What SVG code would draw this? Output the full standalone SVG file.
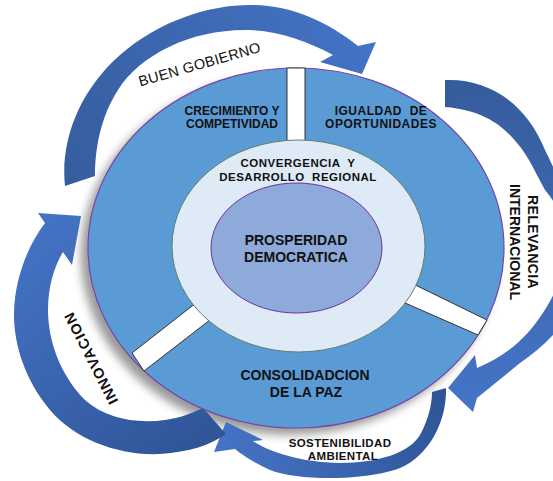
<svg xmlns="http://www.w3.org/2000/svg" width="553" height="481" viewBox="0 0 553 481">
<defs>
<style>
text { font-family: "Liberation Sans", Arial, sans-serif; fill: #111; }
.b { font-weight: bold; }
.bar { fill: #ffffff; stroke: #333333; stroke-width: 1; }
</style>
<linearGradient id="gA" gradientUnits="userSpaceOnUse" x1="70" y1="185" x2="370" y2="50">
<stop offset="0" stop-color="#365E9F"/><stop offset="1" stop-color="#4472C4"/>
</linearGradient>
<linearGradient id="gB" gradientUnits="userSpaceOnUse" x1="450" y1="80" x2="470" y2="400">
<stop offset="0" stop-color="#355C9C"/><stop offset="1" stop-color="#4573C5"/>
</linearGradient>
<linearGradient id="gC" gradientUnits="userSpaceOnUse" x1="445" y1="395" x2="225" y2="440">
<stop offset="0" stop-color="#2F5597"/><stop offset="1" stop-color="#4472C4"/>
</linearGradient>
<linearGradient id="gD" gradientUnits="userSpaceOnUse" x1="215" y1="440" x2="50" y2="220">
<stop offset="0" stop-color="#2F5597"/><stop offset="1" stop-color="#4472C4"/>
</linearGradient>
<filter id="sh" x="-20%" y="-20%" width="140%" height="140%"><feGaussianBlur stdDeviation="5"/></filter>
</defs>

<rect width="553" height="481" fill="#ffffff"/>

<ellipse id="shadow" cx="289" cy="255" rx="208" ry="180" fill="#000" opacity="0.4" filter="url(#sh)"/>

<g id="connectors">
<path id="arrow-buen-gobierno" fill="url(#gA)" d="M 65 186 C 60 140, 80 90, 120 55 C 160 20, 210 5, 250 5 C 290 5, 325 20, 358 46 L 376 42 L 362 74 L 320 62 L 333 55 C 305 40, 275 30, 245 30 C 190 30, 140 55, 118 90 C 100 118, 95 150, 95 176 Z"/>
<path id="arrow-relevancia" fill="url(#gB)" d="M 445 80 C 485 78, 525 100, 545 150 C 565 190, 585 240, 578 285 C 570 325, 545 345, 520 363 L 477 398 L 473 412 L 448 388 L 475 355 L 477 368 C 500 358, 520 345, 538 320 C 555 297, 566 270, 566 245 C 566 225, 558 205, 545 190 C 535 172, 528 155, 517 143 C 505 128, 485 110, 445 107 Z"/>
<path id="arrow-sostenibilidad" fill="url(#gC)" d="M 432 392 L 446 388 C 447 420, 430 455, 400 468 C 370 480, 300 482, 270 470 C 255 463, 242 455, 235 449 L 214 452 L 226 422 L 263 440 L 253 441 C 270 452, 300 462, 340 463 C 380 463, 410 452, 420 435 C 428 420, 432 405, 432 392 Z"/>
<path id="arrow-innovacion" fill="url(#gD)" d="M 226 434 C 210 445, 190 452, 160 454 C 120 456, 75 440, 50 410 C 25 380, 14 345, 14 315 C 14 280, 28 245, 45 223 L 38 213 L 81 216 L 72 265 L 63 252 C 55 265, 48 285, 48 310 C 48 340, 60 375, 85 400 C 105 418, 135 424, 165 420 C 180 418, 192 413, 203 408 Z"/>
</g>

<g id="ring">
<ellipse cx="296" cy="248" rx="208" ry="180" fill="#5B9BD5" stroke="#7A44A8" stroke-width="1.2"/>
<rect class="bar" x="287" y="68" width="18" height="82"/>
<polygon class="bar" points="132,353 201,299 215,316 144,371"/>
<polygon class="bar" points="403,279 487,320 478,335 396,299"/>
</g>

<g id="node-crecimiento">
<text class="b" font-size="12" text-anchor="middle" x="232" y="115">CRECIMIENTO Y</text>
<text class="b" font-size="12" text-anchor="middle" x="232" y="128">COMPETIVIDAD</text>
</g>

<g id="node-igualdad">
<text class="b" font-size="12" text-anchor="middle" letter-spacing="0.5" x="381" y="115" xml:space="preserve">IGUALDAD  DE</text>
<text class="b" font-size="12" text-anchor="middle" letter-spacing="0.5" x="381" y="128">OPORTUNIDADES</text>
</g>

<g id="node-consolidacion">
<text class="b" font-size="14" text-anchor="middle" x="305" y="380">CONSOLIDADCION</text>
<text class="b" font-size="14" text-anchor="middle" x="306" y="397">DE LA PAZ</text>
</g>

<g id="node-convergencia">
<ellipse cx="298.5" cy="246" rx="126.5" ry="106" fill="#DEEAF6" stroke="#5E7F6C" stroke-width="1"/>
<text class="b" font-size="11.5" text-anchor="middle" letter-spacing="0.5" x="298" y="167" xml:space="preserve">CONVERGENCIA  Y</text>
<text class="b" font-size="11.5" text-anchor="middle" letter-spacing="0.5" x="298" y="181" xml:space="preserve">DESARROLLO  REGIONAL</text>
</g>

<g id="node-prosperidad">
<ellipse cx="296.5" cy="248" rx="85.5" ry="65" fill="#8EAADB" stroke="#7030A0" stroke-width="1"/>
<text class="b" font-size="14" text-anchor="middle" x="296" y="245">PROSPERIDAD</text>
<text class="b" font-size="14" text-anchor="middle" x="296" y="262">DEMOCRATICA</text>
</g>

<g id="label-buen-gobierno">
<text font-size="14.5" text-anchor="middle" letter-spacing="0.3" transform="translate(201,69) rotate(-16)">BUEN GOBIERNO</text>
</g>

<g id="label-relevancia">
<text class="b" font-size="14" text-anchor="middle" letter-spacing="0.4" transform="translate(528,242) rotate(90)">RELEVANCIA</text>
<text class="b" font-size="14" text-anchor="middle" transform="translate(510,242) rotate(90)">INTERNACIONAL</text>
</g>

<g id="label-sostenibilidad">
<text class="b" font-size="11.5" text-anchor="middle" letter-spacing="0.4" x="340" y="447">SOSTENIBILIDAD</text>
<text class="b" font-size="11.5" text-anchor="middle" letter-spacing="0.4" x="343" y="460">AMBIENTAL</text>
</g>

<g id="label-innovacion">
<text class="b" font-size="14.5" text-anchor="middle" letter-spacing="1" transform="translate(91,358) rotate(-117)" y="5">INNOVACION</text>
</g>
</svg>
